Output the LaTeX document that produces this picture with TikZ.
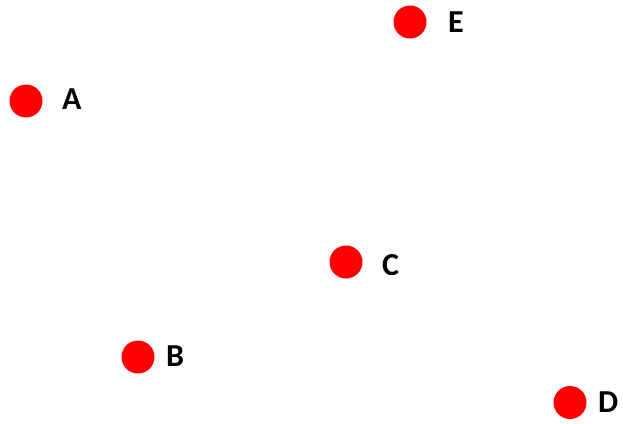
\documentclass[tikz,border=0pt]{standalone}
\usepackage{fontspec}
\setmainfont{Carlito}
\begin{document}
\begin{tikzpicture}[x=1pt,y=-1pt,
  dot/.style={circle,fill=red,draw=none,minimum size=33pt,inner sep=0pt},
  lbl/.style={anchor=west,inner sep=0pt,font=\fontsize{32}{36}\selectfont\bfseries}]
\useasboundingbox (0,0) rectangle (623,423);
\node[dot] (E) at (410,22) {};
\node[dot] (A) at (26,101) {};
\node[dot] (C) at (346,262) {};
\node[dot] (B) at (138,357) {};
\node[dot] (D) at (570,402.5) {};
\node[lbl] (lE) at (448,22) {E};
\node[lbl] (lA) at (62,99) {A};
\node[lbl] (lC) at (382,265) {C};
\node[lbl] (lB) at (166,356) {B};
\node[lbl] (lD) at (598,402.5) {D};
\end{tikzpicture}
\end{document}
